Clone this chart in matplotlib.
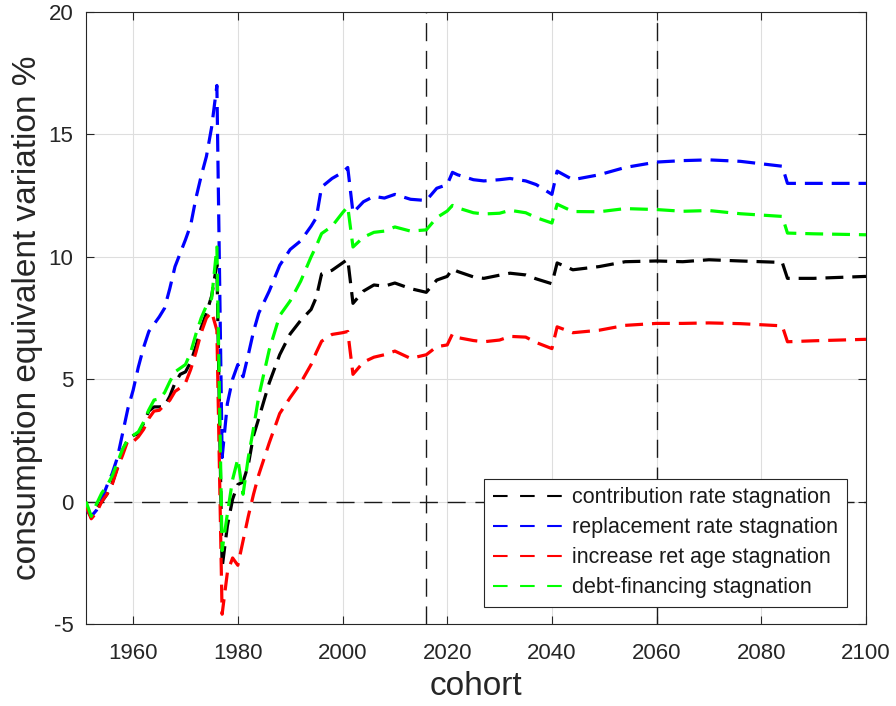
import matplotlib
matplotlib.use("Agg")
import matplotlib.pyplot as plt
from matplotlib.lines import Line2D

plt.rcParams["font.family"] = ["Liberation Sans", "DejaVu Sans"]
plt.rcParams["axes.unicode_minus"] = False

# cohorts (x) and consumption equivalent variation (%) per scenario
years = [1951, 1952, 1953, 1954, 1955, 1956, 1957, 1958, 1959, 1960,
         1961, 1962, 1963, 1964, 1965, 1966, 1967, 1968, 1969, 1970,
         1971, 1972, 1973, 1974, 1975, 1976, 1977, 1978, 1979, 1980,
         1981, 1982, 1983, 1984, 1986, 1988, 1990, 1992, 1994, 1995,
         1996, 1998, 2000, 2001, 2002, 2004, 2006, 2008, 2010, 2013,
         2016, 2018, 2020, 2021, 2022, 2025, 2027, 2030, 2032, 2035,
         2037, 2040, 2041, 2044, 2049, 2054, 2060, 2065, 2070, 2076,
         2084, 2085, 2090, 2100]

contribution = [-0.1, -0.65, -0.3, 0.0, 0.3, 0.75, 1.4, 2.1, 2.55, 2.7,
                2.78, 3.2, 3.7, 3.87, 3.87, 3.9, 4.3, 4.85, 5.2, 5.3,
                5.7, 6.35, 7.1, 7.7, 8.4, 9.7, -2.7, -1.0, 0.1, 0.7,
                0.8, 1.5, 2.7, 3.4, 4.85, 6.0, 6.85, 7.4, 7.85, 8.35,
                9.3, 9.45, 9.75, 9.9, 8.1, 8.6, 8.85, 8.8, 8.93, 8.7,
                8.55, 9.05, 9.2, 9.5, 9.4, 9.18, 9.12, 9.25, 9.33, 9.26,
                9.1, 8.9, 9.75, 9.47, 9.6, 9.8, 9.83, 9.8, 9.88, 9.83,
                9.77, 9.12, 9.12, 9.2]

replacement = [-0.3, -0.6, -0.35, 0.1, 0.65, 1.15, 1.8, 2.8, 3.8, 4.55,
               5.5, 6.3, 6.95, 7.25, 7.55, 7.9, 8.7, 9.6, 10.15, 10.7,
               11.3, 12.4, 13.3, 14.1, 15.3, 17.0, 1.8, 4.0, 5.0, 5.6,
               5.1, 6.0, 6.95, 7.7, 8.6, 9.65, 10.3, 10.65, 11.25, 11.6,
               12.85, 13.2, 13.45, 13.65, 11.8, 12.25, 12.47, 12.4, 12.55, 12.35,
               12.3, 12.8, 12.95, 13.45, 13.35, 13.15, 13.1, 13.15, 13.2, 13.1,
               12.95, 12.55, 13.5, 13.15, 13.35, 13.65, 13.87, 13.93, 13.96, 13.9,
               13.7, 13.0, 13.0, 13.0]

ret_age = [-0.2, -0.7, -0.45, 0.0, 0.3, 0.7, 1.35, 1.9, 2.5, 2.45,
           2.65, 2.95, 3.4, 3.7, 3.73, 3.95, 4.14, 4.5, 4.65, 4.85,
           5.4, 6.1, 6.9, 7.5, 7.75, 7.0, -4.6, -2.9, -2.3, -2.6,
           -1.6, -0.6, 0.3, 1.1, 2.4, 3.6, 4.25, 4.85, 5.6, 6.1,
           6.55, 6.83, 6.9, 6.95, 5.2, 5.7, 5.9, 6.0, 6.15, 5.85,
           6.0, 6.33, 6.4, 6.85, 6.7, 6.58, 6.53, 6.6, 6.75, 6.72,
           6.5, 6.25, 7.14, 6.9, 7.0, 7.2, 7.28, 7.28, 7.3, 7.27,
           7.18, 6.53, 6.57, 6.63]

debt = [0.0, -0.6, -0.1, 0.35, 0.65, 1.05, 1.6, 2.15, 2.55, 2.7,
        2.85, 3.25, 3.75, 4.15, 4.2, 4.45, 4.9, 5.3, 5.45, 5.6,
        6.1, 6.85, 7.5, 8.0, 8.3, 10.4, -2.0, -0.5, 0.9, 1.75,
        0.3, 1.8, 3.0, 4.3, 6.2, 7.6, 8.2, 9.0, 10.0, 10.45,
        10.95, 11.25, 11.8, 12.05, 10.4, 10.8, 11.0, 11.05, 11.22, 11.05,
        11.1, 11.6, 11.87, 12.1, 12.0, 11.8, 11.75, 11.78, 11.9, 11.8,
        11.6, 11.38, 12.15, 11.85, 11.84, 11.97, 11.93, 11.86, 11.89, 11.76,
        11.65, 10.97, 10.94, 10.9]

labels = ["contribution rate stagnation", "replacement rate stagnation",
          "increase ret age stagnation", "debt-financing stagnation"]
colors = ["#000000", "#0000ff", "#ff0000", "#00ff00"]
series = [contribution, replacement, ret_age, debt]

vlines = [2016, 2060]
axis_col = "#262626"

fig = plt.figure(figsize=(8.96, 7.06), dpi=100)
ax = fig.add_axes([0.096, 0.1161, 0.8705, 0.8669])

ax.grid(True, color="#dedede", linewidth=0.8)
ax.set_axisbelow(True)

ax.axhline(0, color="#1a1a1a", linewidth=1.0, dashes=(13, 7), zorder=2)
for v in vlines:
    ax.axvline(v, color="#1a1a1a", linewidth=1.0, dashes=(13, 7), zorder=2)

for vals, col in zip(series, colors):
    ax.plot(years, vals, color=col, linewidth=2.3, dashes=(5.6, 2.8), zorder=3)

ax.set_xlim(1951, 2100)
ax.set_ylim(-5, 20)
ax.set_xticks(range(1960, 2101, 20))
ax.set_yticks(range(-5, 21, 5))

ax.tick_params(direction="in", length=6, width=0.8, colors=axis_col,
               labelsize=16, top=True, right=True)
ax.tick_params(axis="x", pad=14)
ax.tick_params(axis="y", pad=9)
for s in ax.spines.values():
    s.set_color(axis_col)
    s.set_linewidth(0.8)

ax.set_xlabel("cohort", fontsize=24, color=axis_col, labelpad=5)
ax.set_ylabel("consumption equivalent variation %", fontsize=24,
              color=axis_col, labelpad=4)

handles = [Line2D([], [], color=c, linewidth=1.5, dashes=(7, 6)) for c in colors]
leg = ax.legend(handles, labels, loc="lower right",
                bbox_to_anchor=(0.9756, 0.0278), borderaxespad=0,
                fontsize=15.5, handlelength=3.4, handletextpad=0.3,
                labelspacing=0.42, borderpad=0.4, fancybox=False,
                framealpha=1, edgecolor=axis_col)
leg.get_frame().set_linewidth(0.8)
for t in leg.get_texts():
    t.set_color("#1a1a1a")

fig.savefig("out.png", dpi=100)
